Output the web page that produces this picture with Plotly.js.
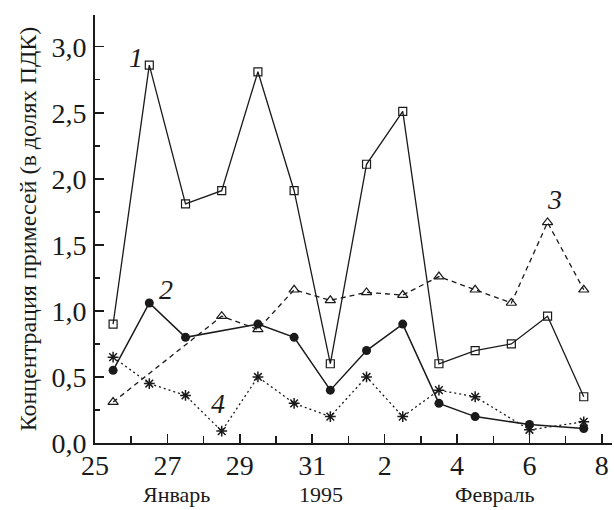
<!DOCTYPE html>
<html>
<head>
<meta charset="utf-8">
<script src="https://cdn.plot.ly/plotly-3.0.1.min.js"></script>
<style>
html,body{margin:0;padding:0;background:#fff;}
#chart{width:614px;height:510px;}
#chart text{font-family:"Liberation Serif","DejaVu Serif",serif !important;}
</style>
</head>
<body>
<div id="chart"></div>
<script>
// Days: Jan 25 = 25 ... Jan 31 = 31, Feb 1 = 32, ..., Feb 8 = 39
const tickVals = [25, 27, 29, 31, 33, 35, 37, 39];
const tickText = ['25', '27', '29', '31', '2', '4', '6', '8'];
const yTickVals = [0, 0.5, 1, 1.5, 2, 2.5, 3];
const yTickText = ['0,0', '0,5', '1,0', '1,5', '2,0', '2,5', '3,0'];

const x1 = [25.5, 26.5, 27.5, 28.5, 29.5, 30.5, 31.5, 32.5, 33.5, 34.5, 35.5, 36.5, 37.5, 38.5];
const y1 = [0.90, 2.86, 1.81, 1.91, 2.81, 1.91, 0.60, 2.11, 2.51, 0.60, 0.70, 0.75, 0.96, 0.35];
const x2 = [25.5, 26.5, 27.5, 29.5, 30.5, 31.5, 32.5, 33.5, 34.5, 35.5, 37.0, 38.5];
const y2 = [0.55, 1.06, 0.80, 0.90, 0.80, 0.40, 0.70, 0.90, 0.30, 0.20, 0.14, 0.11];
const x3 = [25.5, 28.5, 29.5, 30.5, 31.5, 32.5, 33.5, 34.5, 35.5, 36.5, 37.5, 38.5];
const y3 = [0.31, 0.96, 0.86, 1.16, 1.08, 1.14, 1.12, 1.26, 1.16, 1.06, 1.67, 1.16];
const x4 = [25.5, 26.5, 27.5, 28.5, 29.5, 30.5, 31.5, 32.5, 33.5, 34.5, 35.5, 37.0, 38.5];
const y4 = [0.65, 0.45, 0.36, 0.09, 0.50, 0.30, 0.20, 0.50, 0.20, 0.40, 0.35, 0.10, 0.16];

const seriesLabels = ['1', '2', '3', '4'];
const labelX = [26.14, 26.95, 37.68, 28.41];
const labelY = [2.92, 1.16, 1.84, 0.30];
const monthLabels = ['Январь', '1995', 'Февраль'];
const monthX = [27.24, 31.24, 36.05];

const ink = '#1a1a1a';
const serif = 'Liberation Serif';

const traces = [
  {x: x1, y: y1, mode: 'lines+markers', line: {color: ink, width: 1.3},
   marker: {symbol: 'square-open', size: 8, color: ink, line: {width: 1.2}}},
  {x: x2, y: y2, mode: 'lines+markers', line: {color: ink, width: 1.5},
   marker: {symbol: 'circle', size: 9, color: ink}},
  {x: x3, y: y3, mode: 'lines+markers', line: {color: ink, width: 1.3, dash: '5px,4px'},
   marker: {symbol: 'triangle-up-open', size: 9, color: ink, line: {width: 1.2}}},
  {x: x4, y: y4, mode: 'lines+markers', line: {color: ink, width: 1.3, dash: '2px,3px'},
   marker: {symbol: 'asterisk-open', size: 9, color: ink, line: {width: 1.5, color: ink}}}
];

const annotations = [];
for (let i = 0; i < seriesLabels.length; i++) {
  annotations.push({x: labelX[i], y: labelY[i], xref: 'x', yref: 'y', text: seriesLabels[i],
    showarrow: false, font: {family: serif, size: 28, color: ink, style: 'italic'}});
}
for (let i = 0; i < monthLabels.length; i++) {
  annotations.push({x: monthX[i], y: -0.121, xref: 'x', yref: 'paper', text: monthLabels[i],
    showarrow: false, yanchor: 'middle', font: {family: serif, size: 22, color: ink}});
}

const layout = {
  width: 614, height: 510,
  margin: {l: 95, r: 2, t: 15, b: 67},
  paper_bgcolor: '#fff', plot_bgcolor: '#fff',
  showlegend: false,
  font: {family: serif, color: ink},
  xaxis: {
    range: [25, 39.28], showgrid: false, zeroline: false,
    showline: true, linecolor: ink, linewidth: 2,
    ticks: 'inside', ticklen: 9, tickwidth: 1.5, tickcolor: ink,
    tickvals: tickVals, ticktext: tickText,
    tickfont: {family: serif, size: 28, color: ink},
    ticklabelstandoff: -4,
    minor: {dtick: 1, tick0: 25, ticks: 'inside', ticklen: 7, tickwidth: 1.5, tickcolor: ink, showgrid: false}
  },
  yaxis: {
    range: [0, 3.24], showgrid: false, zeroline: false,
    showline: true, linecolor: ink, linewidth: 2,
    ticks: 'inside', ticklen: 9, tickwidth: 1.5, tickcolor: ink,
    tickvals: yTickVals, ticktext: yTickText,
    tickfont: {family: serif, size: 28, color: ink},
    ticklabelstandoff: 1,
    minor: {dtick: 0.25, tick0: 0, ticks: 'inside', ticklen: 5, tickwidth: 1.5, tickcolor: ink, showgrid: false},
    title: {text: 'Концентрация примесей (в долях ПДК)', font: {family: serif, size: 24, color: ink}, standoff: 8}
  },
  annotations: annotations
};

Plotly.newPlot('chart', traces, layout, {displayModeBar: false, staticPlot: true});
</script>
</body>
</html>
